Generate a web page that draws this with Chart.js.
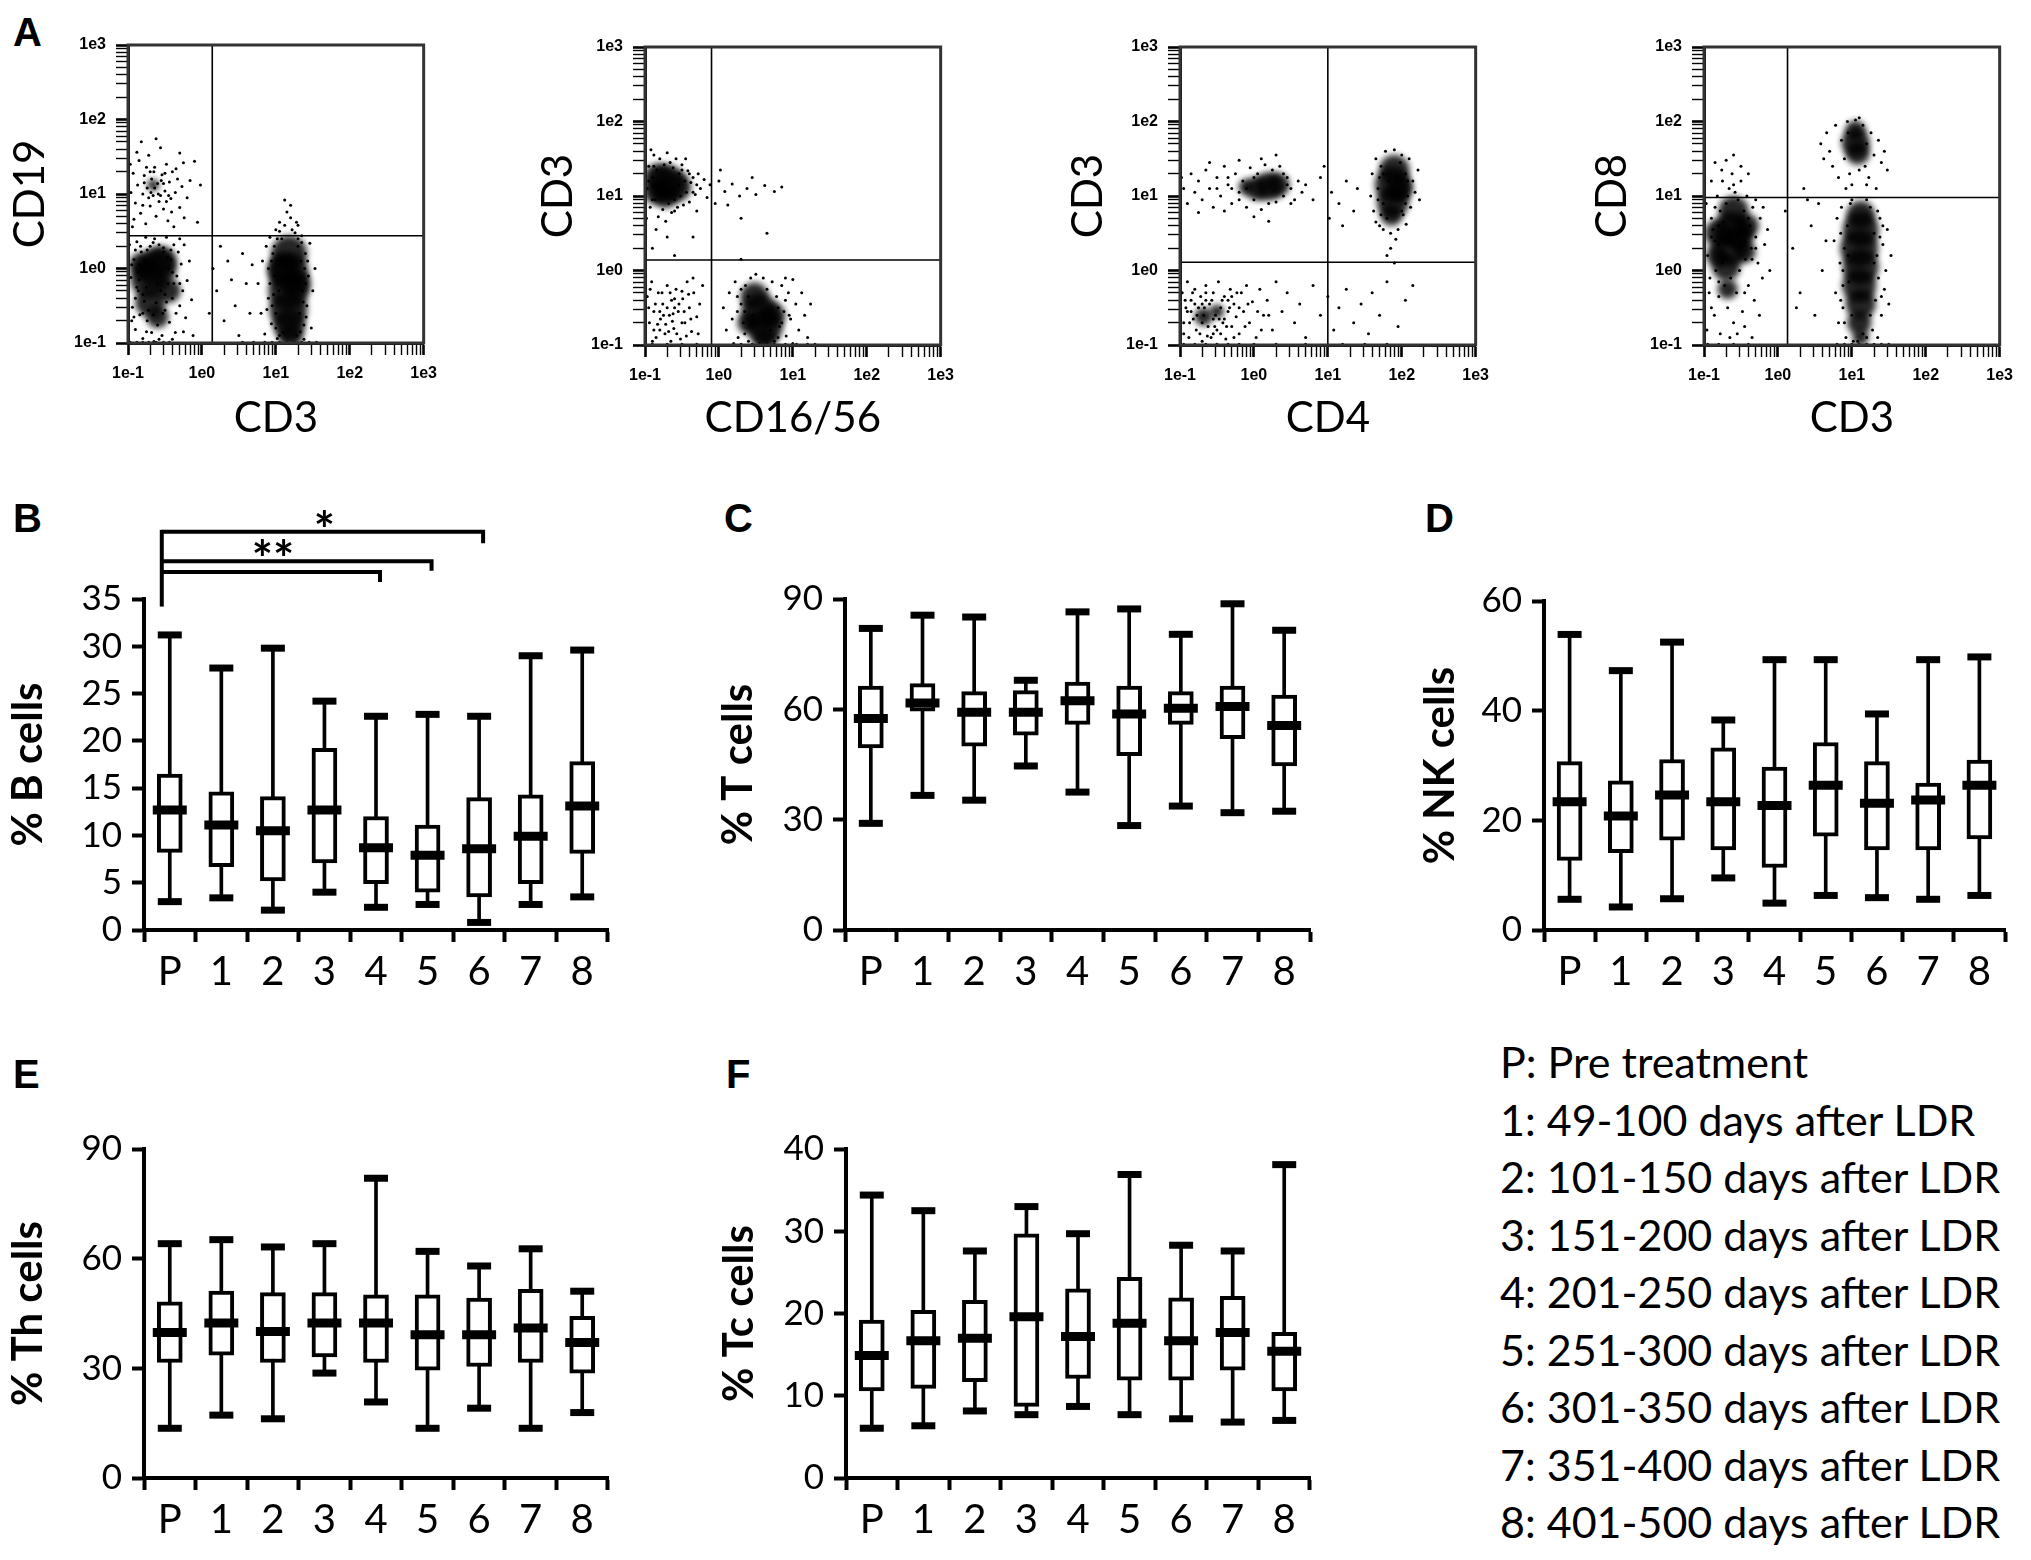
<!DOCTYPE html>
<html>
<head>
<meta charset="utf-8">
<script src="https://cdn.jsdelivr.net/npm/chart.js@4.4.1/dist/chart.umd.min.js"></script>
<style>
  body { margin: 0; background: #fff; width: 2031px; height: 1560px; position: relative; overflow: hidden; }
  .box { position: absolute; }
  .lab { position: absolute; font: bold 40px "Liberation Sans", Arial, sans-serif; line-height: 1; color: #000; }
  #legend { position: absolute; left: 1500px; top: 1033px; font: 43px Lato, sans-serif; line-height: 57.5px; white-space: nowrap; color: #000; }
</style>
</head>
<body>
<div class="lab" style="left:13px;top:12px">A</div>
<div class="lab" style="left:13px;top:498px">B</div>
<div class="lab" style="left:724px;top:498px">C</div>
<div class="lab" style="left:1425px;top:498px">D</div>
<div class="lab" style="left:13px;top:1054px">E</div>
<div class="lab" style="left:726px;top:1054px">F</div>

<div class="box" style="left:0px;top:0px;width:446px;height:460px"><canvas id="a1"></canvas></div>
<div class="box" style="left:517px;top:0px;width:446px;height:460px"><canvas id="a2"></canvas></div>
<div class="box" style="left:1052px;top:0px;width:446px;height:460px"><canvas id="a3"></canvas></div>
<div class="box" style="left:1576px;top:0px;width:446px;height:460px"><canvas id="a4"></canvas></div>

<div class="box" style="left:0px;top:470px;width:640px;height:540px"><canvas id="cb"></canvas></div>
<div class="box" style="left:680px;top:470px;width:660px;height:540px"><canvas id="cc"></canvas></div>
<div class="box" style="left:1360px;top:470px;width:671px;height:540px"><canvas id="cd"></canvas></div>
<div class="box" style="left:0px;top:1010px;width:640px;height:550px"><canvas id="ce"></canvas></div>
<div class="box" style="left:680px;top:1010px;width:660px;height:550px"><canvas id="cf"></canvas></div>

<div id="legend"></div>

<script>
"use strict";

// categories and legend
const categories = ["P", "1", "2", "3", "4", "5", "6", "7", "8"];
const legendLines = [
    "P: Pre treatment",
    "1: 49-100 days after LDR",
    "2: 101-150 days after LDR",
    "3: 151-200 days after LDR",
    "4: 201-250 days after LDR",
    "5: 251-300 days after LDR",
    "6: 301-350 days after LDR",
    "7: 351-400 days after LDR",
    "8: 401-500 days after LDR"
];

// B: % B cells
const bLow  = [3.0, 3.4, 2.1, 4.0, 2.4, 2.7, 0.8, 2.7, 3.5];
const bQ1   = [8.2, 6.7, 5.2, 7.1, 4.9, 4.0, 3.5, 4.9, 8.1];
const bMed  = [12.7, 11.1, 10.5, 12.7, 8.7, 7.9, 8.6, 9.9, 13.1];
const bQ3   = [16.5, 14.6, 14.1, 19.2, 12.0, 11.1, 14.0, 14.3, 17.8];
const bHigh = [31.2, 27.7, 29.8, 24.2, 22.6, 22.8, 22.6, 29.0, 29.6];

// C: % T cells
const cLow  = [29.0, 36.6, 35.3, 44.6, 37.5, 28.4, 33.7, 31.9, 32.3];
const cQ1   = [49.5, 59.5, 50.0, 53.0, 55.9, 47.4, 55.9, 52.0, 44.6];
const cMed  = [57.5, 61.7, 59.2, 59.2, 62.3, 58.7, 60.3, 60.8, 55.6];
const cQ3   = [66.3, 67.0, 64.8, 65.1, 67.4, 66.3, 64.8, 66.3, 63.9];
const cHigh = [82.0, 85.6, 85.1, 67.9, 86.5, 87.3, 80.4, 88.7, 81.5];

// D: % NK cells
const dLow  = [5.6, 4.2, 5.7, 9.5, 4.9, 6.3, 5.9, 5.6, 6.3];
const dQ1   = [12.7, 14.1, 16.4, 14.6, 11.4, 17.1, 14.6, 14.6, 16.6];
const dMed  = [23.4, 20.8, 24.6, 23.4, 22.7, 26.4, 23.1, 23.7, 26.4];
const dQ3   = [30.7, 27.2, 31.1, 33.2, 29.7, 34.2, 30.7, 26.8, 31.0];
const dHigh = [53.9, 47.3, 52.5, 38.3, 49.3, 49.3, 39.4, 49.3, 49.8];

// E: % Th cells
const eLow  = [13.6, 17.2, 16.2, 28.7, 20.8, 13.6, 19.1, 13.6, 17.9];
const eQ1   = [31.6, 33.6, 31.6, 33.1, 31.6, 29.5, 30.5, 31.6, 28.7];
const eMed  = [39.8, 42.4, 40.1, 42.4, 42.4, 39.2, 39.2, 41.0, 37.1];
const eQ3   = [48.2, 51.1, 50.7, 50.7, 50.1, 50.1, 49.2, 51.6, 44.2];
const eHigh = [64.1, 65.2, 63.2, 64.1, 82.0, 62.0, 58.0, 62.7, 51.1];

// F: % Tc cells
const fLow  = [6.05, 6.35, 8.15, 7.7, 8.7, 7.7, 7.2, 6.8, 7.0];
const fQ1   = [10.6, 10.9, 11.7, 8.7, 12.1, 11.9, 11.9, 13.1, 10.6];
const fMed  = [14.9, 16.7, 17.0, 19.6, 17.2, 18.8, 16.7, 17.7, 15.4];
const fQ3   = [19.2, 20.4, 21.6, 29.7, 23.0, 24.4, 21.9, 22.1, 17.7];
const fHigh = [34.4, 32.5, 27.6, 33.0, 29.7, 36.9, 28.3, 27.6, 38.1];

// significance brackets in B (from P to category), heights in % units
const sigTo    = [4, 5, 6];
const sigLevel = [37.85, 39.0, 42.1];
const sigTail  = [36.8, 38.0, 40.9];
const sigMark  = ["", "**", "*"];
const sigMarkAt = [0, 2, 3];
const sigBase  = 34.2;

// A: flow plots, values as log10 exponents (axis 1e-1 .. 1e3)
const gateX = [0.14, -0.1, 1.0, 0.13];
const gateY = [0.44, 0.14, 0.11, 0.98];

// dense cores [x, y, radius px]
const a1Cores = [[-0.66,1.12,6],
  [-0.62,0.0,20],[-0.72,-0.15,18],[-0.55,0.1,15],[-0.7,-0.45,15],[-0.6,-0.65,11],[-0.45,-0.3,12],[-0.82,0.05,12],
  [1.18,0.2,18],[1.17,-0.05,20],[1.17,-0.3,20],[1.17,-0.55,19],[1.18,-0.75,16],[1.2,-0.9,12],[1.1,0.0,15],[1.28,-0.2,14]];
const a2Cores = [[-0.7,1.18,18],[-0.58,1.12,15],[-0.82,1.25,14],[-0.72,1.0,12],[-0.85,1.05,12],
  [0.55,-0.55,18],[0.62,-0.75,18],[0.48,-0.35,14],[0.62,-0.9,12],[0.72,-0.6,13],[0.4,-0.7,11]];
const a3Cores = [[0.2,1.13,14],[0.05,1.1,12],[0.32,1.15,12],[-0.1,1.12,8],
  [1.88,1.15,18],[1.88,0.92,16],[1.9,1.35,15],[1.86,0.75,11],[1.97,1.1,13],
  [-0.68,-0.62,9],[-0.5,-0.55,7]];
const a4Cores = [[-0.62,0.55,18],[-0.65,0.3,18],[-0.6,0.8,15],[-0.7,0.05,14],[-0.52,0.45,14],[-0.68,-0.25,10],
  [-0.8,0.5,14],[-0.42,0.6,12],[-0.82,0.2,11],[-0.45,0.25,11],
  [1.05,1.72,14],[1.08,1.58,12],[1.05,1.88,10],
  [1.12,0.55,18],[1.1,0.3,19],[1.12,0.05,18],[1.1,-0.2,17],[1.12,0.75,14],[1.12,-0.45,15],[1.1,-0.7,12],[1.12,-0.9,8]];

// single events [x, y]
const a1Dots = [[-0.96,1.02],[-0.93,1.28],[-0.9,0.88],[-0.87,1.12],[-0.85,1.45],[-0.83,0.74],[-0.8,1.0],[-0.78,1.25],[-0.76,0.6],[-0.74,1.08],
  [-0.72,1.52],[-0.7,0.84],[-0.68,1.2],[-0.66,0.98],[-0.64,1.36],[-0.62,0.7],[-0.6,1.14],[-0.58,0.9],[-0.56,1.62],[-0.54,1.26],
  [-0.52,0.8],[-0.5,1.04],[-0.48,1.4],[-0.46,0.64],[-0.44,1.16],[-0.42,0.94],[-0.4,1.3],[-0.38,0.56],[-0.36,1.02],[-0.33,1.2],
  [-0.3,0.82],[-0.27,1.1],[-0.24,0.68],[-0.2,0.95],[-0.16,1.18],[-0.92,0.66],[-0.88,1.56],[-0.82,1.7],[-0.62,1.74],[-0.97,1.4],
  [-0.94,0.56],[-0.75,1.36],[-0.69,1.02],[-0.65,1.3],[-0.59,1.0],[-0.55,1.18],[-0.5,1.28],[-0.45,0.98],[-0.41,0.76],[-0.35,1.34],
  [-0.1,1.44],[-0.02,1.12],[-0.06,0.62],[-0.3,1.55],[-0.25,1.42],
  [-0.78,1.15],[-0.72,0.95],[-0.64,1.08],[-0.56,0.98],[-0.52,1.14],[-0.7,1.3],[-0.8,0.85],[-0.48,0.9],
  [-0.98,0.32],[-0.96,-0.12],[-0.94,-0.52],[-0.92,0.12],[-0.9,-0.82],[-0.88,0.36],[-0.86,-0.3],[-0.84,-0.62],[-0.82,0.22],[-0.8,-0.94],
  [-0.78,-0.44],[-0.76,0.42],[-0.74,-0.7],[-0.72,-0.56],[-0.7,0.3],[-0.68,-0.86],[-0.66,-0.62],[-0.64,0.4],[-0.62,-0.46],[-0.6,-0.76],
  [-0.58,0.32],[-0.56,-0.3],[-0.54,-0.9],[-0.52,0.22],[-0.5,-0.56],[-0.48,0.42],[-0.46,-0.2],[-0.44,-0.72],[-0.42,0.12],[-0.4,-0.4],
  [-0.38,0.32],[-0.36,-0.86],[-0.34,-0.1],[-0.32,0.22],[-0.3,-0.5],[-0.28,0.06],[-0.26,-0.3],[-0.24,0.32],[-0.22,-0.66],[-0.2,-0.16],
  [-0.17,0.1],[-0.14,-0.42],[-0.12,-0.9],[-0.95,-0.7],[-0.85,-0.15],[-0.8,-0.35],[-0.75,-0.25],[-0.55,-0.1],[-0.45,0.0],[-0.5,-0.35],
  [-0.6,-0.2],[-0.85,0.05],[-0.9,-0.4],[-0.35,-0.6],[-0.25,-0.85],[-0.3,0.4],[-0.65,-0.98],[-0.4,-0.95],
  [-0.95,0.05],[-0.9,0.25],[-0.86,-0.05],[-0.83,0.3],[-0.78,0.1],[-0.74,0.25],[-0.66,0.35],[-0.52,0.28],[-0.46,0.15],[-0.4,-0.05],
  [-0.38,-0.2],[-0.42,0.25],[-0.48,-0.45],[-0.53,-0.6],[-0.8,-0.6],[-0.88,-0.25],[-0.92,-0.65],[-0.75,-0.85],[-0.58,-0.95],[-0.3,-0.2],
  [-0.97,-0.99],[-0.88,-0.99],[-0.8,-0.99],[-0.72,-0.99],[-0.62,-0.99],[-0.52,-0.99],[-0.44,-0.99],[0.55,-0.99],[0.7,-0.99],[0.85,-0.99],
  [0.95,-0.99],[1.05,-0.99],[1.15,-0.99],[1.25,-0.99],[1.35,-0.99],[1.45,-0.99],[1.55,-0.99],
  [0.76,-0.2],[0.8,-0.6],[0.82,0.1],[0.85,-0.88],[0.87,0.3],[0.9,-0.4],[0.92,0.42],[0.94,-0.74],[0.96,0.2],[0.98,-0.1],
  [1.0,0.52],[1.02,-0.94],[1.05,0.62],[1.08,0.4],[1.1,-0.86],[1.26,0.48],[1.28,-0.9],[1.3,0.3],[1.32,-0.6],[1.34,0.1],
  [1.36,-0.3],[1.38,-0.76],[1.4,0.2],[1.42,-0.5],[1.44,-0.1],[1.46,0.34],[1.48,-0.8],[1.5,-0.3],[1.53,0.0],[1.12,0.58],
  [1.2,0.68],[1.15,0.76],[1.22,0.52],[1.3,0.58],[1.35,0.44],[0.9,0.0],[0.88,-0.55],[1.4,-0.2],[1.43,0.1],[1.0,-0.6],
  [0.97,-0.35],[1.38,-0.95],[1.2,0.85],[1.12,0.92],
  [0.92,-0.2],[0.94,0.1],[0.95,-0.5],[0.98,0.3],[1.0,-0.8],[1.02,0.4],[1.04,-0.3],[1.35,0.35],[1.37,-0.45],[1.39,0.0],
  [1.41,-0.65],[1.33,-0.85],[1.3,0.4],[1.05,0.5],[1.28,0.62],[1.05,-0.9],
  [0.2,-0.3],[0.3,-0.7],[0.35,0.1],[0.45,-0.5],[0.5,-0.9],[0.55,0.2],[0.6,-0.2],[0.65,-0.6],[0.25,0.3],[0.4,-0.15],
  [0.68,0.05],[0.15,0.0],[0.1,-0.6]];

const a2Dots = [[-0.97,1.1],[-0.95,1.4],[-0.93,0.85],[-0.9,1.25],[-0.88,1.55],[-0.86,0.95],[-0.84,1.35],[-0.82,0.72],[-0.8,1.5],[-0.78,1.05],
  [-0.76,0.82],[-0.74,1.42],[-0.72,0.66],[-0.7,1.58],[-0.68,0.9],[-0.66,1.45],[-0.64,0.78],[-0.62,1.38],[-0.6,0.95],[-0.58,1.5],
  [-0.56,0.85],[-0.54,1.3],[-0.52,1.0],[-0.5,1.42],[-0.48,0.88],[-0.46,1.2],[-0.44,1.05],[-0.42,1.34],[-0.4,0.92],[-0.38,1.18],
  [-0.35,1.25],[-0.32,1.02],[-0.28,1.3],[-0.25,1.1],[-0.2,1.22],[-0.16,0.98],[-0.12,1.15],[-0.98,0.7],[-0.92,1.62],[-0.85,1.15],
  [-0.55,1.15],[-0.45,1.5],[-0.3,0.8],
  [-0.95,1.2],[-0.9,0.95],[-0.6,0.8],[-0.4,1.3],[-0.35,1.05],[-0.5,1.35],[-0.88,1.4],[-0.3,1.15],
  [0.0,1.2],[0.08,1.06],[0.18,1.16],[0.28,1.0],[0.38,1.1],[0.5,1.02],[0.62,1.14],[0.75,1.06],[0.85,1.12],[0.12,0.88],
  [0.3,0.7],[0.45,1.25],[0.02,1.35],[-0.05,0.9],
  [-0.9,0.3],[-0.85,0.55],[-0.7,0.45],[-0.35,0.45],[0.3,0.15],[0.65,0.5],[-0.6,0.2],
  [-0.97,-0.35],[-0.94,-0.7],[-0.91,-0.15],[-0.88,-0.55],[-0.85,-0.9],[-0.82,-0.3],[-0.79,-0.65],[-0.76,-0.45],[-0.73,-0.85],[-0.7,-0.2],
  [-0.67,-0.6],[-0.64,-0.4],[-0.61,-0.78],[-0.58,-0.25],[-0.55,-0.55],[-0.52,-0.92],[-0.49,-0.38],[-0.46,-0.7],[-0.43,-0.15],[-0.4,-0.5],
  [-0.37,-0.82],[-0.34,-0.3],[-0.3,-0.62],[-0.26,-0.45],[-0.22,-0.2],[-0.95,-0.5],[-0.8,-0.8],[-0.65,-0.95],[-0.5,-0.7],[-0.6,-0.5],
  [-0.75,-0.6],[-0.9,-0.95],[-0.35,-0.1],[-0.28,-0.85],
  [-0.93,-0.25],[-0.86,-0.45],[-0.8,-0.55],[-0.77,-0.3],[-0.72,-0.72],[-0.7,-0.5],[-0.66,-0.3],[-0.63,-0.68],[-0.6,-0.38],[-0.57,-0.85],
  [-0.54,-0.45],[-0.5,-0.28],[-0.47,-0.55],[-0.44,-0.88],[-0.41,-0.32],[-0.38,-0.65],[-0.83,-0.72],[-0.68,-0.82],[-0.88,-0.8],[-0.62,-0.58],
  [0.06,-0.5],[0.1,-0.8],[0.14,-0.3],[0.18,-0.65],[0.22,-0.15],[0.26,-0.9],[0.3,-0.45],[0.33,-0.7],[0.36,-0.2],[0.4,-0.95],
  [0.43,-0.1],[0.46,-0.6],[0.72,-0.15],[0.75,-0.95],[0.78,-0.35],[0.82,-0.75],[0.85,-0.2],[0.88,-0.55],[0.91,-0.88],[0.94,-0.3],
  [0.97,-0.65],[1.0,-0.12],[1.04,-0.45],[1.08,-0.8],[1.12,-0.3],[1.16,-0.6],[1.2,-0.9],[1.24,-0.45],[0.5,-0.05],[0.6,-0.1],
  [0.65,-0.98],[0.55,-0.98],[0.4,-0.35],[0.8,-0.5],[0.9,-0.1],[0.35,-0.55],[0.25,-0.35],[0.2,-0.98],[1.0,-0.98],[0.7,-0.8],
  [0.25,-0.55],[0.3,-0.25],[0.9,-0.4],[0.85,-0.7],[0.8,-0.9],[0.35,-0.85],[0.65,-0.25],[0.95,-0.6],
  [-0.9,-0.99],[-0.7,-0.99],[-0.5,-0.99],[-0.3,-0.99],[0.3,-0.99],[0.45,-0.99],[0.6,-0.99],[0.75,-0.99],[0.9,-0.99],[1.05,-0.99],
  [1.2,-0.99],[1.3,-0.99]];

const a3Dots = [[-0.95,1.1],[-0.9,0.9],[-0.85,1.3],[-0.8,1.05],[-0.75,1.2],[-0.7,0.95],[-0.65,1.35],[-0.6,1.1],[-0.55,0.85],[-0.5,1.25],
  [-0.45,1.0],[-0.4,1.4],[-0.35,1.15],[-0.3,0.9],[-0.25,1.3],[-0.2,1.05],[-0.15,1.2],[-0.1,0.85],[-0.05,1.38],[0.0,0.95],
  [0.05,1.3],[0.1,0.82],[0.15,1.42],[0.2,0.9],[0.25,1.35],[0.3,0.92],[0.35,1.4],[0.4,1.0],[0.45,1.25],[0.5,1.1],
  [0.55,0.95],[0.6,1.2],[-0.98,1.25],[-0.6,1.45],[-0.2,1.48],[0.1,1.5],[0.3,1.55],[-0.4,0.8],[0.0,0.72],[0.2,0.66],
  [-0.75,0.78],[0.4,1.3],[-0.1,1.1],[-0.3,1.1],[0.65,1.05],
  [-0.5,1.1],[-0.35,1.25],[-0.2,0.95],[0.45,1.15],[0.5,0.9],[0.0,1.25],
  [0.7,1.15],[0.8,0.95],[0.9,1.25],[1.05,1.05],[1.15,0.9],[1.25,1.2],[1.35,0.8],[1.4,1.1],[1.02,0.7],[1.2,0.6],[0.95,1.4],
  [1.58,1.0],[1.6,1.3],[1.62,0.8],[1.65,1.5],[1.68,1.1],[1.7,0.6],[1.72,1.4],[1.75,0.9],[1.78,1.6],[1.8,0.7],
  [1.82,1.2],[1.85,0.5],[1.9,1.62],[1.95,0.55],[1.98,1.45],[2.02,0.75],[2.05,1.3],[2.08,1.0],[2.1,1.5],[2.12,0.85],
  [2.15,1.2],[2.18,1.05],[2.22,1.35],[2.24,0.95],[1.75,1.3],[1.72,0.75],[2.0,1.55],[1.92,0.42],[1.85,0.3],[1.8,0.2],
  [1.9,0.1],[1.65,0.65],[2.06,0.62],
  [1.68,0.95],[1.7,1.25],[2.05,0.9],[2.08,1.2],[1.75,0.55],[2.0,0.8],
  [-0.97,-0.3],[-0.95,-0.7],[-0.92,-0.5],[-0.9,-0.15],[-0.88,-0.9],[-0.85,-0.4],[-0.82,-0.65],[-0.8,-0.25],[-0.78,-0.8],[-0.75,-0.5],
  [-0.72,-0.35],[-0.7,-0.95],[-0.68,-0.6],[-0.65,-0.2],[-0.62,-0.75],[-0.6,-0.45],[-0.58,-0.9],[-0.55,-0.3],[-0.52,-0.6],[-0.5,-0.8],
  [-0.48,-0.15],[-0.45,-0.5],[-0.42,-0.7],[-0.4,-0.35],[-0.38,-0.92],[-0.35,-0.55],[-0.32,-0.25],[-0.3,-0.75],[-0.27,-0.45],[-0.24,-0.62],
  [-0.2,-0.85],[-0.17,-0.3],[-0.14,-0.55],[-0.1,-0.2],[-0.06,-0.7],[-0.02,-0.42],[0.03,-0.9],[0.08,-0.25],[0.13,-0.6],[0.18,-0.4],
  [0.25,-0.8],[0.3,-0.15],[0.38,-0.55],[0.45,-0.3],[0.55,-0.7],[0.62,-0.45],[0.7,-0.9],[0.8,-0.2],[0.9,-0.6],[1.0,-0.35],
  [1.08,-0.8],[1.15,-0.5],[1.25,-0.25],[1.35,-0.7],[1.45,-0.45],[1.55,-0.85],[1.6,-0.3],[1.7,-0.6],[1.8,-0.15],[2.05,-0.4],
  [1.95,-0.75],[2.15,-0.2],[-0.9,-0.55],[-0.8,-0.45],[-0.7,-0.7],[-0.65,-0.4],[-0.55,-0.65],[-0.45,-0.85],[-0.35,-0.4],
  [-0.85,-0.55],[-0.7,-0.45],[-0.55,-0.85],[-0.4,-0.65],[-0.3,-0.35],[-0.95,-0.85],[-0.2,-0.5],[-0.65,-0.3],
  [-0.93,-0.4],[-0.87,-0.7],[-0.83,-0.3],[-0.77,-0.6],[-0.73,-0.85],[-0.67,-0.5],[-0.63,-0.88],[-0.57,-0.4],[-0.53,-0.75],[-0.47,-0.65],
  [-0.43,-0.4],[-0.37,-0.75],[-0.33,-0.5],[-0.27,-0.9],[-0.23,-0.3],[-0.12,-0.75],[-0.08,-0.45],[0.05,-0.55],[0.1,-0.8],[0.2,-0.6],
  [-0.95,-0.99],[-0.8,-0.99],[-0.65,-0.99],[-0.5,-0.99],[-0.35,-0.99],[-0.2,-0.99],[0.0,-0.99],[0.3,-0.99],[0.7,-0.99],[1.2,-0.99],
  [1.5,-0.99],[1.8,-0.99]];

const a4Dots = [[-0.97,0.9],[-0.95,0.2],[-0.93,-0.3],[-0.9,1.2],[-0.88,0.55],[-0.86,-0.6],[-0.84,0.0],[-0.82,1.0],[-0.8,0.35],[-0.78,-0.85],
  [-0.76,1.35],[-0.74,0.65],[-0.72,-0.2],[-0.7,0.9],[-0.68,-0.5],[-0.66,1.1],[-0.64,-0.1],[-0.62,1.3],[-0.6,-0.7],[-0.58,1.05],
  [-0.56,-0.3],[-0.54,0.95],[-0.52,0.0],[-0.5,1.2],[-0.48,-0.55],[-0.46,0.8],[-0.44,0.15],[-0.42,1.0],[-0.4,-0.2],[-0.38,0.6],
  [-0.36,0.3],[-0.34,0.85],[-0.32,-0.4],[-0.3,0.45],[-0.27,0.1],[-0.24,0.7],[-0.21,-0.1],[-0.18,0.35],[-0.14,0.55],[-0.11,0.0],
  [-0.96,-0.8],[-0.9,0.7],[-0.8,-0.35],[-0.75,0.1],[-0.65,-0.9],[-0.55,-0.85],[-0.45,-0.75],[-0.35,-0.9],[-0.25,-0.6],[-0.85,1.45],
  [-0.7,1.48],[-0.6,1.55],[-0.5,1.4],[-0.4,1.3],[-0.92,-0.1],[-0.85,0.4],[-0.78,0.8],[-0.55,0.5],[-0.45,0.4],[-0.3,0.95],[-0.2,0.85],
  [-0.9,0.45],[-0.85,0.85],[-0.8,0.6],[-0.4,0.7],[-0.35,0.15],[-0.3,0.3],[-0.9,-0.5],[-0.8,-0.15],[-0.45,-0.3],[-0.6,1.15],[-0.75,1.2],
  [0.1,0.8],[0.2,0.3],[0.3,-0.3],[0.35,1.1],[0.45,0.6],[0.5,-0.6],[0.55,0.9],[0.6,0.0],[0.4,0.95],[0.25,-0.5],[0.65,0.4],
  [0.58,1.7],[0.62,1.5],[0.66,1.85],[0.7,1.6],[0.74,1.4],[0.78,1.95],[0.82,1.25],[0.86,1.75],[0.9,1.5],[0.94,2.0],
  [0.97,1.3],[1.0,1.15],[1.15,1.95],[1.18,1.4],[1.2,1.7],[1.23,1.25],[1.26,1.85],[1.3,1.55],[1.33,1.1],[1.36,1.75],
  [1.4,1.45],[1.44,1.6],[1.48,1.35],[1.1,2.05],[1.05,2.02],[0.95,1.85],[1.2,1.15],[0.92,1.1],[1.1,1.35],
  [0.76,0.4],[0.78,-0.3],[0.8,0.7],[0.82,-0.7],[0.84,0.1],[0.86,0.85],[0.88,-0.5],[0.9,0.3],[0.92,-0.9],[0.94,0.6],
  [0.96,-0.15],[0.98,0.9],[1.0,-0.6],[1.02,-0.95],[1.25,0.85],[1.28,-0.8],[1.3,0.5],[1.32,-0.4],[1.34,0.2],[1.36,-0.1],
  [1.38,0.7],[1.4,-0.6],[1.42,0.35],[1.44,-0.25],[1.46,0.0],[1.48,0.55],[1.5,-0.45],[1.53,0.2],[1.2,-0.9],[1.15,-0.85],
  [1.08,-0.95],[1.25,-0.6],[0.95,0.2],[1.3,0.1],[1.0,0.95],[1.2,0.95],[1.35,-0.9],[0.88,-0.2],
  [0.85,0.5],[0.88,0.0],[0.9,-0.7],[1.38,0.45],[1.4,-0.35],[1.35,0.8],[0.85,-0.4],[1.42,0.6],
  [-0.95,-0.99],[-0.8,-0.99],[-0.6,-0.99],[-0.4,-0.99],[0.9,-0.99],[1.0,-0.99],[1.1,-0.99],[1.2,-0.99],[1.3,-0.99],[1.4,-0.99],
  [0.8,-0.99],[1.5,-0.99]];

// tick positions for the log decades (1..9 x 10^n)
const logTicks = [];
for (let d = -1; d < 3; d++) {
    for (let k = 1; k < 10; k++) logTicks.push(d + Math.log10(k));
}
logTicks.push(3);
const isDecade = v => Math.abs(v - Math.round(v)) < 1e-9;

document.getElementById("legend").innerHTML = legendLines.join("<br>");

// box round the dot plot
const frame = {
    id: "frame",
    afterDatasetsDraw(chart) {
        const a = chart.chartArea, c = chart.ctx;
        c.save();
        c.strokeStyle = "#333";
        c.lineWidth = 3;
        c.strokeRect(a.left, a.top, a.right - a.left, a.bottom - a.top);
        c.restore();
    }
};

// soft edges for the dense clusters
const soften = {
    id: "soften",
    beforeDatasetDraw(chart, args) {
        if (chart.data.datasets[args.index].type === "bubble") {
            chart.ctx.save();
            chart.ctx.filter = "blur(3px)";
        }
    },
    afterDatasetDraw(chart, args) {
        if (chart.data.datasets[args.index].type === "bubble") chart.ctx.restore();
    }
};

function flowChart(id, g, cores, dots, gx, gy, xTitle, yTitle) {
    new Chart(document.getElementById(id), {
        type: "scatter",
        data: {
            datasets: [
                { type: "line", data: [{ x: gx, y: -1 }, { x: gx, y: 3 }], borderColor: "#000", borderWidth: 1.6, pointRadius: 0, order: 0 },
                { type: "line", data: [{ x: -1, y: gy }, { x: 3, y: gy }], borderColor: "#000", borderWidth: 1.6, pointRadius: 0, order: 0 },
                { data: dots.map(d => ({ x: d[0], y: d[1] })), pointRadius: 1.5, backgroundColor: "#000", borderWidth: 0, order: 1 },
                { type: "bubble", data: cores.map(c => ({ x: c[0], y: c[1], r: c[2] })), backgroundColor: "rgba(0,0,0,0.85)", borderWidth: 0, order: 2 }
            ]
        },
        options: {
            animation: false,
            responsive: true,
            maintainAspectRatio: false,
            layout: { padding: { top: g.pt, right: 20, left: 0, bottom: 0 } },
            plugins: { legend: { display: false }, tooltip: { enabled: false } },
            scales: {
                x: {
                    type: "linear", min: -1, max: 3,
                    afterBuildTicks: s => { s.ticks = logTicks.map(v => ({ value: v })); },
                    ticks: { autoSkip: false, maxRotation: 0, color: "#000", padding: 9,
                        font: { family: "Liberation Sans", size: 16, weight: "bold" },
                        callback: v => isDecade(v) ? "1e" + Math.round(v) : "" },
                    grid: { drawOnChartArea: false, tickLength: 12, tickColor: "#000",
                        tickWidth: c => (c.tick && isDecade(c.tick.value)) ? 2.6 : 1.4 },
                    border: { width: 3, color: "#111" },
                    title: { display: true, text: xTitle, color: "#000", font: { family: "Lato", size: 42 }, padding: { bottom: 16 } },
                    afterFit: s => { s.height = g.xh; }
                },
                y: {
                    type: "linear", min: -1, max: 3,
                    afterBuildTicks: s => { s.ticks = logTicks.map(v => ({ value: v })); },
                    ticks: { autoSkip: false, color: "#000", padding: 10,
                        font: { family: "Liberation Sans", size: 16, weight: "bold" },
                        callback: v => isDecade(v) ? "1e" + Math.round(v) : "" },
                    grid: { drawOnChartArea: false, tickLength: 12, tickColor: "#000",
                        tickWidth: c => (c.tick && isDecade(c.tick.value)) ? 2.6 : 1.4 },
                    border: { width: 3, color: "#111" },
                    title: { display: true, text: yTitle, color: "#000", font: { family: "Lato", size: 42 }, padding: { top: g.tp } },
                    afterFit: s => { s.width = 128; }
                }
            }
        },
        plugins: [frame, soften]
    });
}

// significance brackets above panel B
const brackets = {
    id: "brackets",
    afterDraw(chart) {
        const x = chart.scales.x, y = chart.scales.y, c = chart.ctx;
        const x0 = x.getPixelForValue(0) - 8;
        c.save();
        c.strokeStyle = "#000";
        c.fillStyle = "#000";
        c.lineWidth = 4;
        c.beginPath();
        c.moveTo(x0, y.getPixelForValue(sigBase));
        c.lineTo(x0, y.getPixelForValue(Math.max(...sigLevel)) - 2);
        c.stroke();
        c.font = "bold 50px Lato";
        c.textAlign = "center";
        c.textBaseline = "middle";
        sigTo.forEach((t, i) => {
            const yy = y.getPixelForValue(sigLevel[i]);
            const xe = x.getPixelForValue(t) + 4;
            c.beginPath();
            c.moveTo(x0, yy);
            c.lineTo(xe, yy);
            c.lineTo(xe, y.getPixelForValue(sigTail[i]));
            c.stroke();
            if (sigMark[i]) c.fillText(sigMark[i], x.getPixelForValue(sigMarkAt[i]), yy);
        });
        c.restore();
    }
};

function boxChart(id, g, low, q1, med, q3, high, yMax, yStep, yTitle, extra) {
    new Chart(document.getElementById(id), {
        type: "bar",
        data: {
            labels: categories,
            datasets: [
                { type: "line", data: med, showLine: false, pointStyle: "line", pointRadius: 17, pointBorderWidth: 9,
                  pointBorderColor: "#000", pointBackgroundColor: "#000", order: 0, clip: false },
                { type: "line", data: high, showLine: false, pointStyle: "line", pointRadius: 12, pointBorderWidth: 7,
                  pointBorderColor: "#000", pointBackgroundColor: "#000", order: 1, clip: false },
                { type: "line", data: low, showLine: false, pointStyle: "line", pointRadius: 12, pointBorderWidth: 7,
                  pointBorderColor: "#000", pointBackgroundColor: "#000", order: 1, clip: false },
                { data: q1.map((v, i) => [v, q3[i]]), backgroundColor: "#fff", borderColor: "#000", borderWidth: 4,
                  borderSkipped: false, barThickness: 25, grouped: false, order: 2 },
                { data: low.map((v, i) => [v, high[i]]), backgroundColor: "#000", barThickness: 3, grouped: false, order: 3 }
            ]
        },
        options: {
            animation: false,
            responsive: true,
            maintainAspectRatio: false,
            layout: { padding: { top: g.pt, right: g.pr, left: 0, bottom: 0 } },
            plugins: { legend: { display: false }, tooltip: { enabled: false } },
            scales: {
                x: {
                    grid: { drawOnChartArea: false, offset: true, tickLength: 12, tickWidth: 4, tickColor: "#000" },
                    border: { width: 4, color: "#000" },
                    ticks: { color: "#000", padding: 6, font: { family: "Lato", size: 40 } },
                    afterFit: s => { s.height = g.xh; }
                },
                y: {
                    min: 0, max: yMax,
                    ticks: { stepSize: yStep, color: "#000", padding: 10, font: { family: "Lato", size: 35 } },
                    grid: { drawOnChartArea: false, tickLength: 12, tickWidth: 4, tickColor: "#000" },
                    border: { width: 4, color: "#000" },
                    title: { display: true, text: yTitle, color: "#000", font: { family: "Lato", size: 42, weight: "bold" }, padding: { top: g.tp } },
                    afterFit: s => { s.width = g.yw; }
                }
            }
        },
        plugins: extra || []
    });
}

flowChart("a1", { pt: 45, xh: 117, tp: 5 }, a1Cores, a1Dots, gateX[0], gateY[0], "CD3", "CD19");
flowChart("a2", { pt: 47, xh: 115, tp: 16 }, a2Cores, a2Dots, gateX[1], gateY[1], "CD16/56", "CD3");
flowChart("a3", { pt: 47, xh: 115, tp: 11 }, a3Cores, a3Dots, gateX[2], gateY[2], "CD4", "CD3");
flowChart("a4", { pt: 47, xh: 115, tp: 11 }, a4Cores, a4Dots, gateX[3], gateY[3], "CD3", "CD8");

boxChart("cb", { pt: 129, pr: 32, xh: 80, yw: 144, tp: 3 }, bLow, bQ1, bMed, bQ3, bHigh, 35, 5, "% B cells", [brackets]);
boxChart("cc", { pt: 129, pr: 30, xh: 80, yw: 165, tp: 33 }, cLow, cQ1, cMed, cQ3, cHigh, 90, 30, "% T cells");
boxChart("cd", { pt: 131, pr: 24, xh: 80, yw: 184, tp: 55 }, dLow, dQ1, dMed, dQ3, dHigh, 60, 20, "% NK cells");
boxChart("ce", { pt: 139, pr: 32, xh: 82, yw: 144, tp: 3 }, eLow, eQ1, eMed, eQ3, eHigh, 90, 30, "% Th cells");
boxChart("cf", { pt: 139, pr: 30, xh: 82, yw: 166, tp: 34 }, fLow, fQ1, fMed, fQ3, fHigh, 40, 10, "% Tc cells");
</script>
</body>
</html>
